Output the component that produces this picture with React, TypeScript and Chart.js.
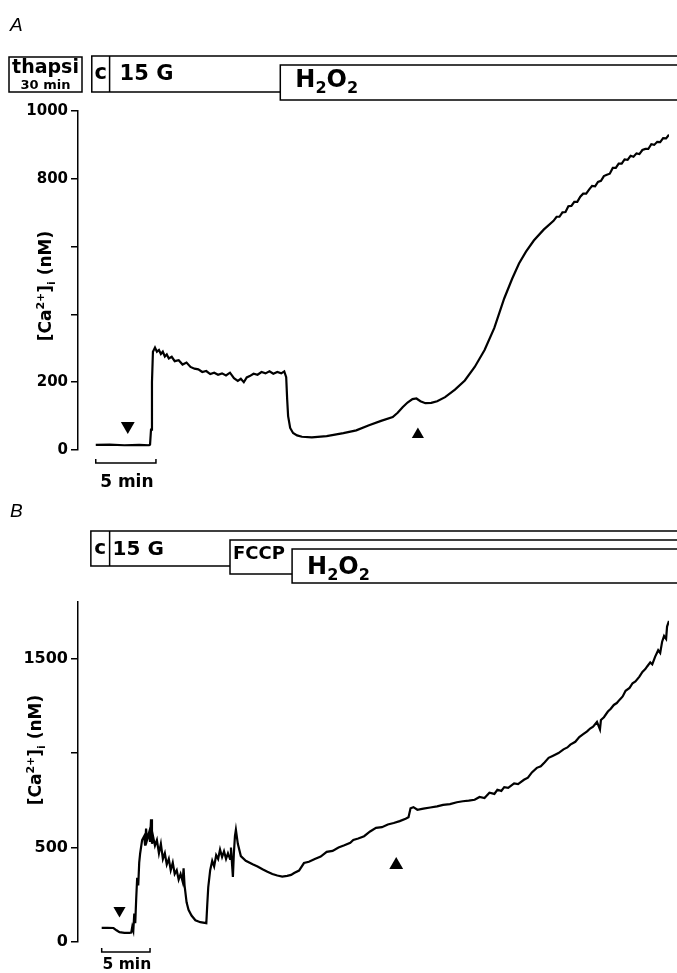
import React, { useEffect, useRef } from 'react';
import { Chart, registerables } from 'chart.js';

Chart.register(...registerables);

const FONT = '"DejaVu Sans", "Liberation Sans", sans-serif';
const W = 677;

// ---------------- Panel A (minutes, nM) ----------------
const timeA = [
  0, 1.15, 2.38, 3.61, 4.43, 4.51, 4.59, 4.67, 4.75, 4.92, 5.08, 5.25, 5.41, 5.57, 5.74, 5.9,
  6.07, 6.31, 6.56, 6.89, 7.21, 7.54, 7.87, 8.2, 8.52, 8.85, 9.18, 9.51, 9.84, 10.16, 10.49,
  10.82, 11.15, 11.48, 11.8, 12.05, 12.3, 12.54, 12.79, 13.11, 13.44, 13.77, 14.1, 14.43,
  14.75, 15.08, 15.41, 15.66, 15.82, 15.9, 15.98, 16.15, 16.39, 16.72, 17.13, 17.95, 19.18,
  20.57, 21.64, 22.7, 23.7, 24.67, 25.08, 25.49, 25.9, 26.31, 26.64, 26.97, 27.38, 27.87,
  28.36, 29.02, 29.84, 30.66, 31.48, 32.3, 33.11, 33.93, 34.59, 35.16, 35.74, 36.39, 37.21,
  38.03, 38.28, 38.52, 38.77, 39.02, 39.26, 39.51, 39.75, 40.0, 40.25, 40.49, 40.74, 40.98,
  41.23, 41.48, 41.72, 41.97, 42.21, 42.46, 42.7, 42.95, 43.2, 43.44, 43.69, 43.93, 44.18,
  44.43, 44.67, 44.92, 45.16, 45.41, 45.66, 45.9, 46.15, 46.39, 46.64, 46.89, 47.13, 47.38,
  47.62,
];
const caA = [
  15, 16, 14, 15, 14, 16, 60, 200, 290, 302, 290, 295, 283, 290, 276, 282,
  270, 275, 262, 265, 252, 258, 245, 240, 238, 230, 233, 224, 228, 222, 226,
  220, 228, 212, 204, 210, 200, 214, 218, 225, 222, 230, 226, 232,
  225, 230, 226, 232, 215, 150, 100, 65, 50, 43, 39, 37, 41,
  50, 58, 73, 86, 97, 110, 126, 140, 150, 152, 144, 138, 139,
  144, 156, 178, 205, 245, 295, 360, 447, 505, 550, 585, 618, 650,
  676, 688, 688, 701, 702, 719, 720, 732, 732, 747, 756, 756, 768,
  779, 778, 791, 794, 808, 812, 815, 832, 832, 845, 845, 857, 856,
  868, 865, 875, 873, 885, 888, 888, 902, 900, 909, 908, 920, 919,
  930,
];
const markerTimeA = [2.66, 26.76];
const markerCaA = [71, 46];
const markerRotA = [180, 0];
const markerSizeA = [8, 7];
const yTicksA = [0, 200, 400, 600, 800, 1000];
const yLabelsA = ['0', '200', '', '', '800', '1000'];
const xRangeA = [-1.475, 47.62];
const yRangeA = [0, 1000];
const controlStartA = -0.33;
const glucoseStartA = 1.15;
const h2o2StartA = 15.33;

// ---------------- Panel B (minutes, nM) ----------------
const timeB = [
  0, 0.61, 1.22, 1.53, 1.84, 2.35, 2.86, 3.06, 3.16, 3.27, 3.37, 3.47, 3.57, 3.67, 3.78, 3.88,
  3.98, 4.18, 4.39, 4.49, 4.59, 4.69, 4.9, 5.0, 5.1, 5.2, 5.31, 5.51, 5.71, 5.92, 6.12, 6.33,
  6.53, 6.73, 6.94, 7.14, 7.35, 7.55, 7.76, 7.96, 8.16, 8.37, 8.47, 8.57, 8.78, 8.98, 9.29,
  9.69, 10.2, 10.82, 10.92, 11.02, 11.22, 11.43, 11.63, 11.84, 12.04, 12.24, 12.45, 12.65,
  12.86, 13.06, 13.27, 13.37, 13.47, 13.57, 13.67, 13.78, 13.88, 14.08, 14.39, 14.9, 15.61,
  16.12, 16.63, 17.14, 17.65, 18.16, 18.67, 19.18, 19.59, 19.9, 20.41, 20.92, 21.43, 22.04,
  22.65, 23.27, 23.88, 24.49, 25.1, 25.71, 26.02, 26.53, 27.14, 27.76, 28.37, 28.98, 29.59,
  30.2, 30.82, 31.43, 31.73, 31.94, 32.24, 32.65, 33.27, 33.98, 34.69, 35.31, 36.02, 36.73,
  37.35, 37.96, 38.57, 39.08, 39.59, 40.1, 40.61, 40.92, 41.33, 41.63, 42.04, 42.65, 43.06,
  43.67, 44.08, 44.49, 45.0, 45.41, 45.82, 46.22, 46.63, 47.24, 47.76, 48.16, 48.47, 48.98,
  49.39, 49.8, 50.2, 50.51, 50.82, 51.22, 51.53, 51.63, 51.94, 52.35, 52.65, 52.96, 53.27,
  53.57, 53.88, 54.18, 54.59, 54.9, 55.2, 55.61, 55.92, 56.22, 56.43, 56.73, 56.94, 57.24,
  57.55, 57.76, 57.96, 58.16, 58.37, 58.47, 58.67,
];
const caB = [
  75, 75, 74, 62, 52, 48, 48, 50, 80, 60, 150, 100, 230, 340, 300, 420,
  470, 540, 560, 510, 600, 540, 580, 530, 650, 520, 560, 510, 540, 470, 520, 440,
  470, 410, 440, 380, 420, 360, 380, 330, 360, 320, 390, 300, 210, 170, 140,
  115, 105, 100, 200, 290, 380, 430, 400, 460, 440, 490, 450, 480,
  440, 470, 440, 500, 420, 345, 470, 560, 594, 520, 455, 430, 412,
  400, 385, 372, 360, 352, 346, 350, 355, 365, 378, 418, 425, 440,
  452, 477, 482, 500, 512, 525, 540, 548, 560, 585, 604, 608, 622,
  630, 640, 652, 660, 708, 714, 700, 706, 712, 718, 726, 730, 740,
  745, 748, 753, 768, 762, 790, 784, 806, 800, 820, 816, 840, 836,
  859, 870, 898, 922, 930, 952, 975, 985, 1000, 1020, 1030, 1045, 1060,
  1085, 1100, 1115, 1130, 1140, 1165, 1125, 1175, 1190, 1220, 1235, 1255, 1265,
  1283, 1300, 1330, 1345, 1370, 1380, 1405, 1430, 1445, 1460, 1480, 1470, 1511,
  1545, 1530, 1590, 1620, 1605, 1670, 1700,
];
const markerTimeB = [1.84, 30.46];
const markerCaB = [167, 408];
const markerRotB = [180, 0];
const markerSizeB = [7, 8];
const yTicksB = [0, 500, 1000, 1500];
const yLabelsB = ['0', '500', '', '1500'];
const xRangeB = [-2.45, 58.67];
const yRangeB = [0, 1800];
const controlStartB = -1.12;
const glucoseStartB = 0.82;
const fccpStartB = 13.27;
const h2o2StartB = 19.69;

const scaleBarMinutes = 5;

// ---------------- helpers ----------------
type Part = [string, number, number];

function partsWidth(ctx: CanvasRenderingContext2D, parts: Part[]) {
  let w = 0;
  for (const [t, s] of parts) {
    ctx.font = `bold ${s}px ${FONT}`;
    w += ctx.measureText(t).width;
  }
  return w;
}

function drawParts(
  ctx: CanvasRenderingContext2D,
  parts: Part[],
  x: number,
  y: number,
  align: 'left' | 'center' = 'left'
) {
  const w = partsWidth(ctx, parts);
  let cx = align === 'center' ? x - w / 2 : x;
  ctx.textAlign = 'left';
  ctx.textBaseline = 'alphabetic';
  for (const [t, s, dy] of parts) {
    ctx.font = `bold ${s}px ${FONT}`;
    ctx.fillText(t, cx, y + dy);
    cx += ctx.measureText(t).width;
  }
}

const yTitleParts = (big: number, small: number): Part[] => [
  ['[Ca', big, 0],
  ['2+', small, -7],
  [']', big, 0],
  ['i', small, 4],
  [' (nM)', big, 0],
];

function drawYTitle(ctx: CanvasRenderingContext2D, baseX: number, centerY: number, big: number) {
  ctx.save();
  ctx.translate(baseX, centerY);
  ctx.rotate(-Math.PI / 2);
  drawParts(ctx, yTitleParts(big, 11), 0, 0, 'center');
  ctx.restore();
}

function drawScaleBar(ctx: CanvasRenderingContext2D, chart: any, y: number, textY: number, size: number) {
  const xs = chart.scales.x;
  const s0 = xs.getPixelForValue(0);
  const s1 = xs.getPixelForValue(scaleBarMinutes);
  ctx.beginPath();
  ctx.moveTo(s0, y - 4);
  ctx.lineTo(s0, y);
  ctx.lineTo(s1, y);
  ctx.lineTo(s1, y - 4);
  ctx.stroke();
  drawParts(ctx, [[`${scaleBarMinutes} min`, size, 0]], (s0 + s1) / 2 + 1, textY, 'center');
}

function drawLetter(ctx: CanvasRenderingContext2D, letter: string, y: number) {
  ctx.font = `italic 19px "Liberation Sans", Arial, sans-serif`;
  ctx.textAlign = 'left';
  ctx.textBaseline = 'alphabetic';
  ctx.fillText(letter, 10, y);
}

const decorA = {
  id: 'decorA',
  afterDraw(chart: any) {
    const ctx: CanvasRenderingContext2D = chart.ctx;
    const xs = chart.scales.x;
    const px = (t: number) => xs.getPixelForValue(t);
    ctx.save();
    ctx.strokeStyle = '#000';
    ctx.fillStyle = '#000';
    ctx.lineWidth = 1.5;
    drawLetter(ctx, 'A', 31);

    // thapsigargin pre-treatment label
    ctx.strokeRect(9, 57, 73, 35);
    drawParts(ctx, [['thapsi', 19, 0]], 45.5, 73, 'center');
    drawParts(ctx, [['30 min', 13, 0]], 45.5, 89, 'center');

    const c0 = px(controlStartA);
    const g0 = px(glucoseStartA);
    const h0 = px(h2o2StartA);
    ctx.beginPath();
    ctx.moveTo(W + 5, 56);
    ctx.lineTo(c0, 56);
    ctx.lineTo(c0, 92);
    ctx.lineTo(h0, 92);
    ctx.moveTo(g0, 56);
    ctx.lineTo(g0, 92);
    ctx.stroke();
    drawParts(ctx, [['c', 21, 0]], (c0 + g0) / 2, 79, 'center');
    drawParts(ctx, [['15 G', 21, 0]], g0 + 10, 80, 'left');

    ctx.fillStyle = '#fff';
    ctx.fillRect(h0, 65, W + 5 - h0, 35);
    ctx.strokeRect(h0, 65, W + 5 - h0, 35);
    ctx.fillStyle = '#000';
    drawParts(ctx, [['H', 24, 0], ['2', 16, 6], ['O', 24, 0], ['2', 16, 6]], h0 + 15, 87, 'left');

    drawYTitle(ctx, 50.5, 286, 17);
    drawScaleBar(ctx, chart, 463, 487, 17);
    ctx.restore();
  },
};

const decorB = {
  id: 'decorB',
  afterDraw(chart: any) {
    const ctx: CanvasRenderingContext2D = chart.ctx;
    const xs = chart.scales.x;
    const px = (t: number) => xs.getPixelForValue(t);
    ctx.save();
    ctx.strokeStyle = '#000';
    ctx.fillStyle = '#000';
    ctx.lineWidth = 1.5;
    drawLetter(ctx, 'B', 27);

    const c0 = px(controlStartB);
    const g0 = px(glucoseStartB);
    const f0 = px(fccpStartB);
    const h0 = px(h2o2StartB);
    ctx.beginPath();
    ctx.moveTo(W + 5, 41);
    ctx.lineTo(c0, 41);
    ctx.lineTo(c0, 76);
    ctx.lineTo(f0, 76);
    ctx.moveTo(g0, 41);
    ctx.lineTo(g0, 76);
    ctx.stroke();
    drawParts(ctx, [['c', 20, 0]], (c0 + g0) / 2, 64, 'center');
    drawParts(ctx, [['15 G', 20, 0]], g0 + 3, 65, 'left');

    ctx.fillStyle = '#fff';
    ctx.fillRect(f0, 50, W + 5 - f0, 34);
    ctx.strokeRect(f0, 50, W + 5 - f0, 34);
    ctx.fillStyle = '#000';
    drawParts(ctx, [['FCCP', 18, 0]], f0 + 3, 69, 'left');

    ctx.fillStyle = '#fff';
    ctx.fillRect(h0, 59, W + 5 - h0, 34);
    ctx.strokeRect(h0, 59, W + 5 - h0, 34);
    ctx.fillStyle = '#000';
    drawParts(ctx, [['H', 24, 0], ['2', 16, 6], ['O', 24, 0], ['2', 16, 6]], h0 + 15, 84, 'left');

    drawYTitle(ctx, 40.5, 260, 17);
    drawScaleBar(ctx, chart, 462, 479, 15.5);
    ctx.restore();
  },
};

function makeConfig(opts: {
  time: number[];
  ca: number[];
  mTime: number[];
  mCa: number[];
  mRot: number[];
  mSize: number[];
  yTicks: number[];
  yLabels: string[];
  xRange: number[];
  yRange: number[];
  tickFont: number;
  padTop: number;
  padBottom: number;
  plugin: any;
}): any {
  return {
    type: 'line',
    data: {
      datasets: [
        {
          data: opts.time.map((t, i) => ({ x: t, y: opts.ca[i] })),
          borderColor: '#000',
          borderWidth: 2.2,
          pointRadius: 0,
          tension: 0,
          fill: false,
        },
        {
          type: 'scatter',
          data: opts.mTime.map((t, i) => ({ x: t, y: opts.mCa[i] })),
          pointStyle: 'triangle',
          rotation: opts.mRot,
          radius: opts.mSize,
          backgroundColor: '#000',
          borderColor: '#000',
          borderWidth: 0,
        },
      ],
    },
    options: {
      animation: false,
      responsive: false,
      devicePixelRatio: 1,
      layout: { padding: { top: opts.padTop, bottom: opts.padBottom, left: 0, right: 0 } },
      plugins: { legend: { display: false }, tooltip: { enabled: false } },
      events: [],
      scales: {
        x: { type: 'linear', display: false, min: opts.xRange[0], max: opts.xRange[1] },
        y: {
          type: 'linear',
          min: opts.yRange[0],
          max: opts.yRange[1],
          afterFit: (s: any) => {
            s.width = 78;
          },
          afterBuildTicks: (s: any) => {
            s.ticks = opts.yTicks.map((v) => ({ value: v }));
          },
          ticks: {
            color: '#000',
            padding: 3,
            font: { family: FONT, weight: 'bold', size: opts.tickFont },
            callback: (v: number) => {
              const i = opts.yTicks.indexOf(v);
              return i >= 0 ? opts.yLabels[i] : '';
            },
          },
          grid: {
            drawOnChartArea: false,
            drawTicks: true,
            tickLength: 7,
            color: '#000',
            lineWidth: 1.5,
          },
          border: { display: true, color: '#000', width: 1.5 },
        },
      },
    },
    plugins: [opts.plugin],
  };
}

function Panel({ top, height, config }: { top: number; height: number; config: () => any }) {
  const ref = useRef<HTMLCanvasElement>(null);
  useEffect(() => {
    const chart = new Chart(ref.current as HTMLCanvasElement, config());
    return () => chart.destroy();
  }, []);
  return (
    <canvas
      ref={ref}
      width={W}
      height={height}
      style={{ position: 'absolute', left: 0, top, width: W, height, display: 'block' }}
    />
  );
}

export default function App() {
  return (
    <div style={{ position: 'absolute', left: 0, top: 0, width: W, height: 973, background: '#fff' }}>
      <Panel
        top={0}
        height={490}
        config={() =>
          makeConfig({
            time: timeA,
            ca: caA,
            mTime: markerTimeA,
            mCa: markerCaA,
            mRot: markerRotA,
            mSize: markerSizeA,
            yTicks: yTicksA,
            yLabels: yLabelsA,
            xRange: xRangeA,
            yRange: yRangeA,
            tickFont: 15,
            padTop: 111,
            padBottom: 40,
            plugin: decorA,
          })
        }
      />
      <Panel
        top={490}
        height={483}
        config={() =>
          makeConfig({
            time: timeB,
            ca: caB,
            mTime: markerTimeB,
            mCa: markerCaB,
            mRot: markerRotB,
            mSize: markerSizeB,
            yTicks: yTicksB,
            yLabels: yLabelsB,
            xRange: xRangeB,
            yRange: yRangeB,
            tickFont: 16,
            padTop: 112,
            padBottom: 31,
            plugin: decorB,
          })
        }
      />
    </div>
  );
}
